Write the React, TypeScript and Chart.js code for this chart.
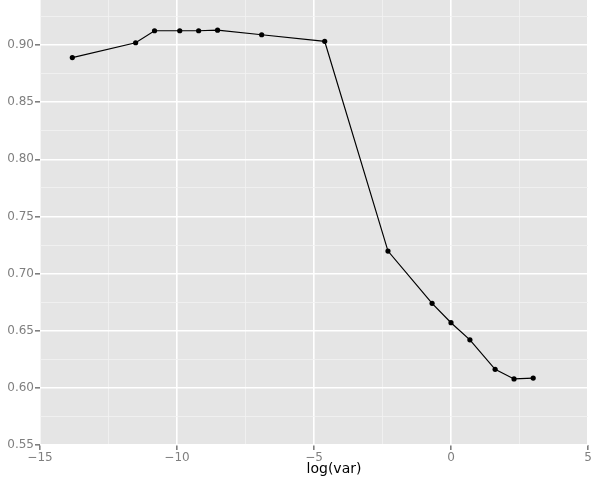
import React, { useEffect, useRef } from "react";
import { Chart, registerables } from "chart.js";

Chart.register(...registerables);

const logVar = [-13.82, -11.51, -10.82, -9.90, -9.21, -8.52, -6.91, -4.61, -2.30, -0.69, 0, 0.69, 1.61, 2.30, 3.0];
const score = [0.889, 0.902, 0.9125, 0.9125, 0.9125, 0.913, 0.909, 0.9032, 0.7197, 0.674, 0.657, 0.642, 0.6162, 0.6078, 0.6086];
const xTicks = [-15, -12.5, -10, -7.5, -5, -2.5, 0, 2.5, 5];
const xMajor = [-15, -10, -5, 0, 5];
const yTicks = [0.55, 0.575, 0.6, 0.625, 0.65, 0.675, 0.7, 0.725, 0.75, 0.775, 0.8, 0.825, 0.85, 0.875, 0.9, 0.925];
const yMajor = [0.55, 0.6, 0.65, 0.7, 0.75, 0.8, 0.85, 0.9];
const xTitle = "log(var)";

const FONT = "'DejaVu Sans', sans-serif";
const isMajor = (list: number[], v: number) => list.some((m) => Math.abs(m - v) < 1e-9);

const bgPlugin = {
  id: "panelBg",
  beforeDraw(chart: any) {
    const { ctx, chartArea } = chart;
    ctx.save();
    ctx.fillStyle = "#e5e5e5";
    ctx.fillRect(chartArea.left, chartArea.top, chartArea.right - chartArea.left, chartArea.bottom - chartArea.top);
    ctx.restore();
  },
};

const titlePlugin = {
  id: "xTitle",
  afterDraw(chart: any) {
    const { ctx, chartArea } = chart;
    ctx.save();
    ctx.fillStyle = "#000000";
    ctx.font = `14px ${FONT}`;
    ctx.textAlign = "center";
    ctx.textBaseline = "middle";
    ctx.fillText(xTitle, (chartArea.left + chartArea.right) / 2 + 20, chartArea.bottom + 24);
    ctx.restore();
  },
};

export default function App() {
  const ref = useRef<HTMLCanvasElement>(null);
  useEffect(() => {
    if (!ref.current) return;
    const chart = new Chart(ref.current, {
      type: "scatter",
      data: {
        datasets: [
          {
            data: logVar.map((x, i) => ({ x, y: score[i] })),
            showLine: true,
            borderColor: "#000000",
            borderWidth: 1.2,
            backgroundColor: "#000000",
            pointRadius: 2.6,
            pointBorderWidth: 0,
          },
        ],
      },
      options: {
        animation: false,
        responsive: true,
        maintainAspectRatio: false,
        layout: { padding: { top: 0, right: 10, left: 0, bottom: 0 } },
        plugins: { legend: { display: false }, tooltip: { enabled: false } },
        scales: {
          x: {
            type: "linear",
            min: -15,
            max: 5,
            afterBuildTicks: (s: any) => {
              s.ticks = xTicks.map((v) => ({ value: v }));
            },
            afterFit: (s: any) => {
              s.height = 38;
              s.paddingLeft = 0;
              s.paddingRight = 0;
            },
            border: { display: false },
            grid: {
              color: (c: any) => (isMajor(xMajor, c.tick.value) ? "#ffffff" : "#f2f2f2"),
              lineWidth: (c: any) => (isMajor(xMajor, c.tick.value) ? 1.6 : 0.8),
              tickColor: (c: any) => (isMajor(xMajor, c.tick.value) ? "#7f7f7f" : "rgba(0,0,0,0)"),
              tickLength: 5,
              drawTicks: true,
            },
            ticks: {
              autoSkip: false,
              maxRotation: 0,
              padding: 1,
              color: "#7f7f7f",
              font: { family: FONT, size: 12 },
              callback: (v: any) => (isMajor(xMajor, Number(v)) ? String(v).replace("-", "\u2212") : ""),
            },
          },
          y: {
            type: "linear",
            min: 0.55,
            max: 0.9394,
            afterBuildTicks: (s: any) => {
              s.ticks = yTicks.map((v) => ({ value: v }));
            },
            afterFit: (s: any) => {
              s.width = 40;
              s.paddingTop = 0;
              s.paddingBottom = 0;
            },
            border: { display: false },
            grid: {
              color: (c: any) => (isMajor(yMajor, c.tick.value) ? "#ffffff" : "#f2f2f2"),
              lineWidth: (c: any) => (isMajor(yMajor, c.tick.value) ? 1.6 : 0.8),
              tickColor: (c: any) => (isMajor(yMajor, c.tick.value) ? "#7f7f7f" : "rgba(0,0,0,0)"),
              tickLength: 5,
              drawTicks: true,
            },
            ticks: {
              autoSkip: false,
              padding: 1,
              color: "#7f7f7f",
              font: { family: FONT, size: 12 },
              callback: (v: any) => (isMajor(yMajor, Number(v)) ? Number(v).toFixed(2) : ""),
            },
          },
        },
      },
      plugins: [bgPlugin, titlePlugin],
    });
    return () => chart.destroy();
  }, []);
  return (
    <div style={{ position: "fixed", left: 0, top: -4, width: 598, height: 487, background: "#ffffff" }}>
      <canvas ref={ref} />
    </div>
  );
}
